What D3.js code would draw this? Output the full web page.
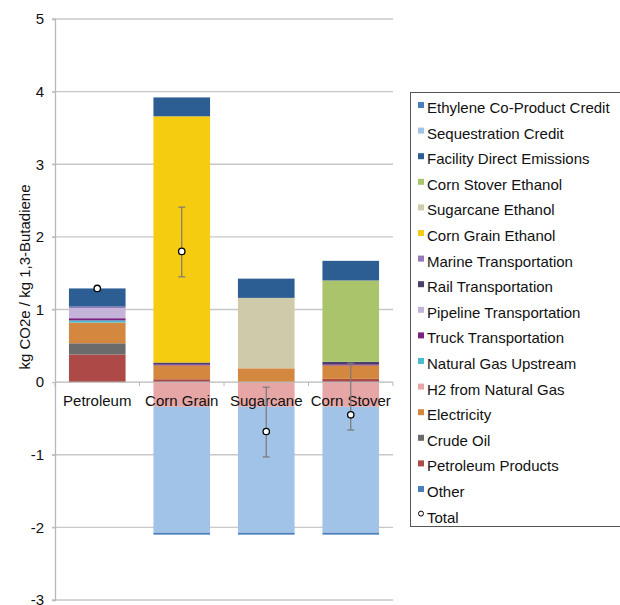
<!DOCTYPE html>
<html>
<head>
<meta charset="utf-8">
<title>Butadiene GHG</title>
<style>
body { margin: 0; background: #fff; }
svg { display: block; font-family: "Liberation Sans", Arial, sans-serif; }
</style>
<script src="https://d3js.org/d3.v7.min.js"></script>
</head>
<body>
<svg id="chart" width="620" height="605"></svg>
<script>
// categories on the x axis
const categories = ["Petroleum", "Corn Grain", "Sugarcane", "Corn Stover"];

// series in stacking order (bottom first); legend shows them reversed
const seriesNames = [
  "Other", "Petroleum Products", "Crude Oil", "Electricity", "H2 from Natural Gas",
  "Natural Gas Upstream", "Truck Transportation", "Pipeline Transportation",
  "Rail Transportation", "Marine Transportation", "Corn Grain Ethanol",
  "Sugarcane Ethanol", "Corn Stover Ethanol", "Facility Direct Emissions",
  "Sequestration Credit", "Ethylene Co-Product Credit"
];
const seriesColors = [
  "#4a7ebb", "#ad4a47", "#6b6b6b", "#d4883f", "#e6a6a6",
  "#4bbccf", "#7b2180", "#c4b4d9",
  "#4a3e6b", "#9579b8", "#f6cc10",
  "#cfcaa9", "#a9c46b", "#2c5d93",
  "#a1c3e8", "#4a7ebb"
];

// values per series: Petroleum, Corn Grain, Sugarcane, Corn Stover
const other         = [0, 0, 0, 0];
const petroProducts = [0.38, 0.04, 0, 0.045];
const crudeOil      = [0.155, 0, 0, 0];
const electricity   = [0.285, 0.19, 0.19, 0.185];
const h2NatGas      = [0, -0.34, -0.34, -0.34];
const natGasUp      = [0.03, 0, 0, 0];
const truck         = [0.03, 0.015, 0, 0.015];
const pipeline      = [0.14, 0, 0, 0];
const rail          = [0, 0.025, 0, 0.035];
const marine        = [0.02, 0, 0, 0];
const cornGrainEth  = [0, 3.39, 0, 0];
const sugarcaneEth  = [0, 0, 0.97, 0];
const cornStoverEth = [0, 0, 0, 1.12];
const facility      = [0.25, 0.26, 0.265, 0.27];
const sequestration = [0, -1.735, -1.735, -1.735];
const ethylene      = [0, -0.025, -0.025, -0.025];

const seriesValues = [other, petroProducts, crudeOil, electricity, h2NatGas,
  natGasUp, truck, pipeline, rail, marine, cornGrainEth, sugarcaneEth,
  cornStoverEth, facility, sequestration, ethylene];

const totals   = [1.29, 1.80, -0.68, -0.45];
const errLow   = [1.29, 1.45, -1.03, -0.66];
const errHigh  = [1.29, 2.41, -0.07, 0.26];

const yTicks = [5, 4, 3, 2, 1, 0, -1, -2, -3];

const svg = d3.select("#chart");

const x = d3.scaleBand().domain(categories).range([55, 393])
  .paddingInner(0.33).paddingOuter(0.165);
const y = d3.scaleLinear().domain([-3, 5]).range([600, 19]);

// gridlines
svg.append("g").selectAll("line")
  .data(yTicks.filter(d => d !== 0))
  .join("line")
  .attr("x1", 52).attr("x2", 393)
  .attr("y1", d => y(d)).attr("y2", d => y(d))
  .attr("stroke", "#c8c8c8").attr("stroke-width", 1.3);

// stacked bars
const table = categories.map((c, i) => {
  const row = { cat: c };
  seriesNames.forEach((s, k) => row[s] = seriesValues[k][i]);
  return row;
});
const stacked = d3.stack().keys(seriesNames)
  .offset(d3.stackOffsetDiverging)(table);

svg.append("g").selectAll("g")
  .data(stacked)
  .join("g")
  .attr("fill", (d, i) => seriesColors[i])
  .selectAll("rect")
  .data(d => d.filter(p => p[1] !== p[0]))
  .join("rect")
  .attr("x", d => x(d.data.cat))
  .attr("width", x.bandwidth())
  .attr("y", d => y(Math.max(d[0], d[1])))
  .attr("height", d => Math.abs(y(d[0]) - y(d[1])));

// y axis
const yAxis = svg.append("g").attr("transform", "translate(55,0)")
  .call(d3.axisLeft(y).tickValues(yTicks).tickSize(3).tickPadding(8).tickFormat(d => String(d)));
yAxis.select(".domain").attr("stroke", "#b8b8b8").attr("stroke-width", 1.3);
yAxis.selectAll(".tick line").attr("stroke", "#b8b8b8");
yAxis.selectAll("text").attr("font-size", 15).attr("fill", "#111")
  .attr("font-family", "Liberation Sans, Arial, sans-serif");

// x axis on zero line
const xAxis = svg.append("g").attr("transform", `translate(0,${y(0)})`);
xAxis.append("line").attr("x1", 55).attr("x2", 393)
  .attr("stroke", "#b8b8b8").attr("stroke-width", 1.3);
const edges = [55].concat(categories.map(c => x(c) + x.bandwidth() + x.step() * x.paddingInner() / 2));
xAxis.selectAll("line.tk").data(edges).join("line").attr("class", "tk")
  .attr("x1", d => d).attr("x2", d => d).attr("y1", 0).attr("y2", 4)
  .attr("stroke", "#b8b8b8");
xAxis.selectAll("text").data(categories).join("text")
  .attr("x", d => x(d) + x.bandwidth() / 2).attr("y", 24)
  .attr("text-anchor", "middle").attr("font-size", 15).attr("fill", "#111")
  .text(d => d);

// error bars and total markers
const err = svg.append("g").attr("stroke", "#7a7a7a").attr("stroke-width", 1.2);
categories.forEach((c, i) => {
  if (errLow[i] === errHigh[i]) return;
  const cx = x(c) + x.bandwidth() / 2;
  err.append("line").attr("x1", cx).attr("x2", cx).attr("y1", y(errLow[i])).attr("y2", y(errHigh[i]));
  err.append("line").attr("x1", cx - 3.5).attr("x2", cx + 3.5).attr("y1", y(errLow[i])).attr("y2", y(errLow[i]));
  err.append("line").attr("x1", cx - 3.5).attr("x2", cx + 3.5).attr("y1", y(errHigh[i])).attr("y2", y(errHigh[i]));
});
svg.append("g").selectAll("circle").data(totals).join("circle")
  .attr("cx", (d, i) => x(categories[i]) + x.bandwidth() / 2)
  .attr("cy", d => y(d)).attr("r", 3.2)
  .attr("fill", "#fff").attr("stroke", "#000").attr("stroke-width", 1.3);

// y axis title
svg.append("text")
  .attr("transform", "translate(30,277) rotate(-90)")
  .attr("text-anchor", "middle").attr("font-size", 15).attr("fill", "#111")
  .text("kg CO2e / kg 1,3-Butadiene");

// legend
const legend = svg.append("g");
legend.append("rect").attr("x", 410.5).attr("y", 92.5).attr("width", 220).attr("height", 434)
  .attr("fill", "#fff").attr("stroke", "#555");
const legendItems = seriesNames.map((s, k) => ({ name: s, color: seriesColors[k] })).reverse();
legendItems.push({ name: "Total", color: null });
const rows = legend.selectAll("g.row").data(legendItems).join("g").attr("class", "row")
  .attr("transform", (d, i) => `translate(0,${113 + i * 25.6})`);
rows.filter(d => d.color).append("rect")
  .attr("x", 418).attr("y", -11).attr("width", 6).attr("height", 6)
  .attr("fill", d => d.color);
rows.filter(d => !d.color).append("circle")
  .attr("cx", 421).attr("cy", -9).attr("r", 2.5)
  .attr("fill", "#fff").attr("stroke", "#000").attr("stroke-width", 1);
rows.append("text").attr("x", 427).attr("y", 0)
  .attr("font-size", 15).attr("fill", "#111").text(d => d.name);
</script>
</body>
</html>
